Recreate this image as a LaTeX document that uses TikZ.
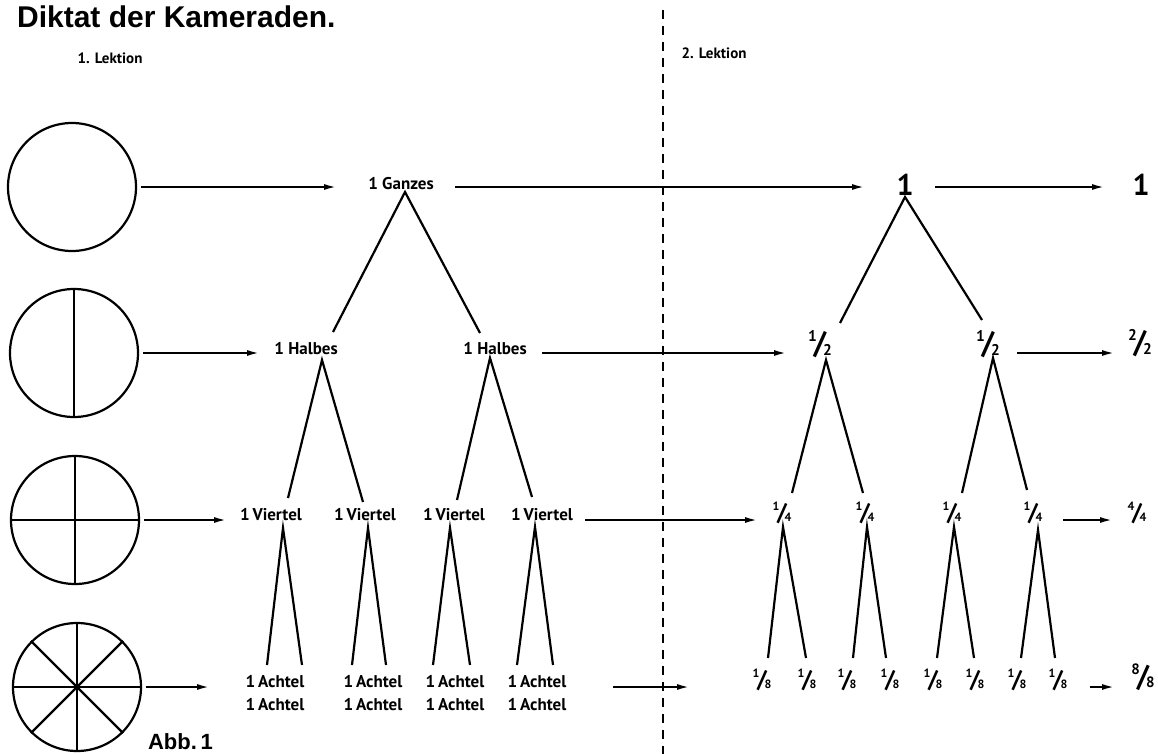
\documentclass[tikz,border=0pt]{standalone}
\usepackage{fontspec}
\usepackage{graphicx}
\setmainfont{Liberation Sans}
\newfontfamily\hand{PT Sans}
\usetikzlibrary{arrows.meta}

\newcommand{\bruch}[2]{\raisebox{.40em}{\scalebox{.5}{#1}}\kern-.1em/\kern-.1em\raisebox{-.05em}{\scalebox{.5}{#2}}}

\begin{document}
\begin{tikzpicture}[x=1pt,y=-1pt,line width=2.2pt,
    lab/.style={inner sep=0pt,font=\hand\bfseries\fontsize{17}{23}\selectfont},
    bruchlab/.style={inner sep=0pt,font=\hand\bfseries\fontsize{#1}{#1}\selectfont},
    kreis/.style={draw,circle,minimum size=128pt,inner sep=0pt},
    pfeil/.style={-{Latex[length=13pt,width=6pt]}}]
\useasboundingbox (0,0) rectangle (1158,754);

\node[anchor=base west,inner sep=0pt,font=\bfseries\fontsize{30}{30}\selectfont](titel)at(16,28){Diktat der Kameraden.};
\node[lab,font=\hand\bfseries\fontsize{15}{15}\selectfont](lek1)at(110,58){1. Lektion};
\node[lab,font=\hand\bfseries\fontsize{15}{15}\selectfont](lek2)at(714,53){2. Lektion};
\node[anchor=base west,inner sep=0pt,font=\bfseries\fontsize{22}{22}\selectfont](abb)at(147,749){Abb.\,1};

\draw[line width=2pt,dash pattern=on 9pt off 7pt](663,10)--(663,754);

% Kreise
\node[kreis](c1)at(72,187){};
\node[kreis](c2)at(74,353){};
\node[kreis](c3)at(75,520){};
\node[kreis](c4)at(77,687){};
\draw(c2.north)--(c2.south);
\draw(c3.north)--(c3.south);
\draw(c3.west)--(c3.east);
\draw(c4.north)--(c4.south);
\draw(c4.west)--(c4.east);
\draw(c4.45)--(c4.225);
\draw(c4.135)--(c4.315);

% 1. Lektion
\node[lab](ganz)at(401,184){1 Ganzes};
\node[lab](halb1)at(306,349){1 Halbes};
\node[lab](halb2)at(495,349){1 Halbes};
\node[lab](v1)at(271,515){1\,Viertel};
\node[lab](v2)at(365,515){1\,Viertel};
\node[lab](v3)at(454,515){1\,Viertel};
\node[lab](v4)at(542,515){1\,Viertel};
\node[lab,align=center](a1)at(275,693){1\,Achtel\\1\,Achtel};
\node[lab,align=center](a2)at(373,693){1\,Achtel\\1\,Achtel};
\node[lab,align=center](a3)at(455,693){1\,Achtel\\1\,Achtel};
\node[lab,align=center](a4)at(537,693){1\,Achtel\\1\,Achtel};

% 2. Lektion
\node[bruchlab=30](eins1)at(905,185){1};
\node[bruchlab=30](eins2)at(1141,185){1};
\node[bruchlab=31](h1)at(820,344){\bruch{1}{2}};
\node[bruchlab=31](h2)at(988,344){\bruch{1}{2}};
\node[bruchlab=31](zh)at(1140,343){\bruch{2}{2}};
\node[bruchlab=24](q1)at(782,513){\bruch{1}{4}};
\node[bruchlab=24](q2)at(865,513){\bruch{1}{4}};
\node[bruchlab=24](q3)at(952,513){\bruch{1}{4}};
\node[bruchlab=24](q4)at(1033,513){\bruch{1}{4}};
\node[bruchlab=24](vv)at(1137,513){\bruch{4}{4}};
\node[bruchlab=24](e1)at(762,680){\bruch{1}{8}};
\node[bruchlab=24](e2)at(807,680){\bruch{1}{8}};
\node[bruchlab=24](e3)at(847,680){\bruch{1}{8}};
\node[bruchlab=24](e4)at(890,680){\bruch{1}{8}};
\node[bruchlab=24](e5)at(933,680){\bruch{1}{8}};
\node[bruchlab=24](e6)at(975,680){\bruch{1}{8}};
\node[bruchlab=24](e7)at(1017,680){\bruch{1}{8}};
\node[bruchlab=24](e8)at(1058,680){\bruch{1}{8}};
\node[bruchlab=30](ee)at(1143,677){\bruch{8}{8}};

% Pfeile
\draw[pfeil,shorten <=4pt,shorten >=64pt](c1)--(c1-|ganz);
\draw[pfeil,shorten <=54pt,shorten >=40pt](ganz|-c1)--(eins1|-c1);
\draw[pfeil,shorten <=30pt,shorten >=36pt](eins1|-c1)--(eins2|-c1);
\draw[pfeil,shorten <=4pt,shorten >=46pt](c2)--(c2-|halb1);
\draw[pfeil,shorten <=47pt,shorten >=33pt](halb2|-c2)--(h1|-c2);
\draw[pfeil,shorten <=29pt,shorten >=25pt](h2|-c2)--(zh|-c2);
\draw[pfeil,shorten <=4pt,shorten >=44pt](c3)--(c3-|v1);
\draw[pfeil,shorten <=43pt,shorten >=24pt](v4|-c3)--(q1|-c3);
\draw[pfeil,shorten <=30pt,shorten >=24pt](q4|-c3)--(vv|-c3);
\draw[pfeil,shorten <=4pt,shorten >=65pt](c4)--(c4-|a1);
\draw[pfeil,shorten <=76pt,shorten >=72pt](a4|-c4)--(e1|-c4);
\draw[pfeil,shorten <=32pt,shorten >=28pt](e8|-c4)--(ee|-c4);

% Baum links
\draw([shift={(27,-17)}]halb1.center)--([shift={(4,8)}]ganz.center)--([shift={(-15,-16)}]halb2.center);
\draw([shift={(17,-17)}]v1.center)--([shift={(16,11)}]halb1.center)--([shift={(-2,-13)}]v2.center);
\draw([shift={(3,-15)}]v3.center)--([shift={(-5,9)}]halb2.center)--([shift={(-10,-18)}]v4.center);
\draw([shift={(-8,-28)}]a1.center)--([shift={(12,13)}]v1.center)--([shift={(27,-28)}]a1.center);
\draw([shift={(-21,-28)}]a2.center)--([shift={(3,13)}]v2.center)--([shift={(13,-28)}]a2.center);
\draw([shift={(-22,-28)}]a3.center)--([shift={(-4,13)}]v3.center)--([shift={(15,-28)}]a3.center);
\draw([shift={(-20,-28)}]a4.center)--([shift={(-7,12)}]v4.center)--([shift={(16,-28)}]a4.center);

% Baum rechts
\draw([shift={(20,-21)}]h1.center)--([shift={(0,12)}]eins1.center)--([shift={(-6,-24)}]h2.center);
\draw([shift={(10,-20)}]q1.center)--([shift={(6,16)}]h1.center)--([shift={(-2,-20)}]q2.center);
\draw([shift={(10,-20)}]q3.center)--([shift={(5,14)}]h2.center)--([shift={(-6,-23)}]q4.center);
\draw([shift={(6,-22)}]e1.center)--([shift={(1,14)}]q1.center)--([shift={(-1,-22)}]e2.center);
\draw([shift={(6,-22)}]e3.center)--([shift={(2,14)}]q2.center)--([shift={(-4,-22)}]e4.center);
\draw([shift={(4,-22)}]e5.center)--([shift={(2,14)}]q3.center)--([shift={(-1,-22)}]e6.center);
\draw([shift={(4,-22)}]e7.center)--([shift={(5,17)}]q4.center)--([shift={(-3,-22)}]e8.center);
\end{tikzpicture}
\end{document}
